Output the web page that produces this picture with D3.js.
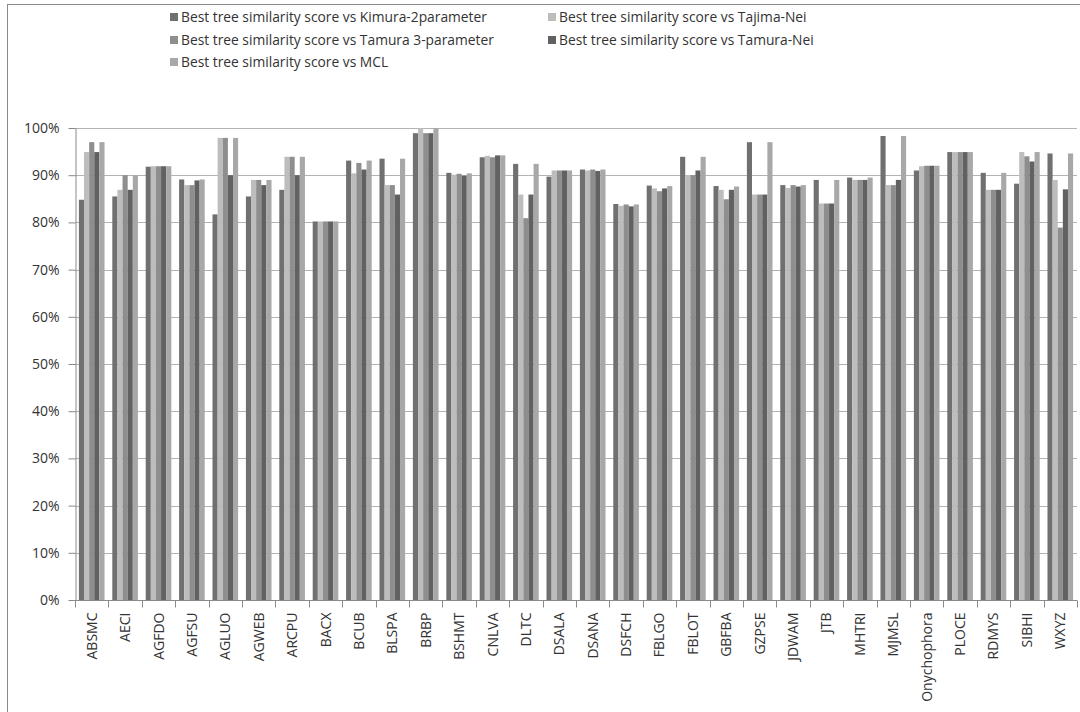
<!DOCTYPE html>
<html>
<head>
<meta charset="utf-8">
<script src="https://cdn.jsdelivr.net/npm/d3@7"></script>
<style>
  body { margin: 0; background: #fff; }
  svg { font-family: "Open Sans", "Noto Sans", sans-serif; }
</style>
</head>
<body>
<script>
// categories (x axis)
const categories = ["ABSMC", "AECI", "AGFDO", "AGFSU", "AGLUO", "AGWEB", "ARCPU", "BACX", "BCUB", "BLSPA",
  "BRBP", "BSHMT", "CNLVA", "DLTC", "DSALA", "DSANA", "DSFCH", "FBLGO", "FBLOT", "GBFBA",
  "GZPSE", "JDWAM", "JTB", "MHTRI", "MJMSL", "Onychophora", "PLOCE", "RDMYS", "SIBHI", "WXYZ"]

const seriesNames = [
  "Best tree similarity score vs Kimura-2parameter",
  "Best tree similarity score vs Tajima-Nei",
  "Best tree similarity score vs Tamura 3-parameter",
  "Best tree similarity score vs Tamura-Nei",
  "Best tree similarity score vs MCL"
]
const seriesColors = ["#707070", "#bdbdbd", "#8e8e8e", "#616161", "#a8a8a8"]

// values in %
const kimura = [84.8, 85.5, 91.8, 89.1, 81.7, 85.5, 86.9, 80.2, 93.1, 93.5,
  98.9, 90.5, 93.8, 92.4, 89.7, 91.2, 83.9, 87.8, 93.9, 87.7,
  97.0, 87.9, 89.0, 89.5, 98.3, 91.0, 94.9, 90.5, 88.2, 94.6]
const tajimaNei = [94.9, 86.9, 91.9, 87.9, 97.9, 89.0, 93.9, 80.2, 90.4, 87.9,
  100, 90.1, 94.1, 85.9, 91.0, 91.0, 83.5, 87.2, 90.0, 86.9,
  85.9, 87.3, 84.0, 89.0, 87.9, 91.9, 94.9, 86.9, 94.9, 89.0]
const tamura3 = [97.0, 90.0, 91.9, 87.9, 97.9, 89.0, 93.9, 80.2, 92.6, 87.9,
  98.9, 90.3, 93.8, 80.9, 91.0, 91.2, 83.8, 86.6, 90.0, 84.9,
  85.9, 87.9, 84.0, 89.0, 87.9, 92.0, 94.9, 86.9, 94.0, 78.9]
const tamuraNei = [94.9, 86.9, 91.9, 88.9, 90.0, 87.9, 90.0, 80.2, 91.2, 85.9,
  98.9, 89.9, 94.2, 85.9, 91.0, 90.9, 83.4, 87.2, 91.0, 86.9,
  85.9, 87.6, 84.0, 89.0, 89.0, 92.0, 94.9, 86.9, 92.9, 87.0]
const mcl = [97.0, 90.0, 91.9, 89.1, 97.9, 89.0, 93.9, 80.2, 93.1, 93.5,
  100, 90.4, 94.2, 92.4, 91.0, 91.2, 83.8, 87.7, 93.9, 87.6,
  97.0, 87.9, 89.0, 89.5, 98.3, 92.0, 94.9, 90.5, 94.9, 94.6]

const yTicks = [0, 10, 20, 30, 40, 50, 60, 70, 80, 90, 100]

const allSeries = [kimura, tajimaNei, tamura3, tamuraNei, mcl]

//----------------------------------------------------------------------------------------------

const width = 1080
const height = 712
const plot = { left: 75, right: 1077, top: 128, bottom: 600 }

const svg = d3.select("body").append("svg")
  .attr("width", width)
  .attr("height", height)

// chart frame
svg.append("rect")
  .attr("x", 7.5)
  .attr("y", 4.5)
  .attr("width", 1200)
  .attr("height", 900)
  .attr("fill", "none")
  .attr("stroke", "#8a8a8a")

const x0 = d3.scaleBand()
  .domain(categories)
  .range([plot.left, plot.right])
  .paddingInner(0.233)
  .paddingOuter(0.117)

const x1 = d3.scaleBand()
  .domain(d3.range(seriesNames.length))
  .range([0, x0.bandwidth()])

const y = d3.scaleLinear()
  .domain([0, 100])
  .range([plot.bottom, plot.top])

// gridlines
svg.append("g")
  .selectAll("line")
  .data(yTicks.slice(1))
  .join("line")
  .attr("x1", plot.left)
  .attr("x2", plot.right)
  .attr("y1", d => Math.round(y(d)) + 0.5)
  .attr("y2", d => Math.round(y(d)) + 0.5)
  .attr("stroke", "#b3b3b3")

// bars
const rows = categories.map((c, i) => ({ cat: c, vals: allSeries.map(s => s[i]) }))

svg.append("g")
  .selectAll("g")
  .data(rows)
  .join("g")
  .attr("transform", d => `translate(${x0(d.cat)},0)`)
  .selectAll("rect")
  .data(d => d.vals.map((v, k) => ({ k: k, v: v })))
  .join("rect")
  .attr("x", d => x1(d.k))
  .attr("y", d => y(d.v))
  .attr("width", x1.bandwidth())
  .attr("height", d => y(0) - y(d.v))
  .attr("fill", d => seriesColors[d.k])

// y axis
const yAxis = svg.append("g")
  .attr("transform", `translate(${plot.left + 0.5},0)`)
  .call(d3.axisLeft(y).tickValues(yTicks).tickFormat(d => d + "%").tickSize(7).tickSizeOuter(0))
yAxis.select(".domain").attr("stroke", "#8a8a8a")
yAxis.selectAll(".tick line").attr("stroke", "#8a8a8a")
yAxis.selectAll(".tick text")
  .attr("x", -16)
  .attr("font-size", 14)
  .attr("font-family", "Open Sans, sans-serif")
  .attr("fill", "#333")

// x axis with ticks between groups
const xAxisG = svg.append("g")
  .attr("transform", `translate(0,${plot.bottom + 0.5})`)
xAxisG.append("line")
  .attr("x1", plot.left)
  .attr("x2", plot.right)
  .attr("stroke", "#8a8a8a")
const step = x0.step()
xAxisG.selectAll(".sep")
  .data(d3.range(categories.length + 1))
  .join("line")
  .attr("class", "sep")
  .attr("x1", i => Math.round(plot.left + i * step) + 0.5)
  .attr("x2", i => Math.round(plot.left + i * step) + 0.5)
  .attr("y1", 0)
  .attr("y2", 7)
  .attr("stroke", "#8a8a8a")
xAxisG.selectAll(".lab")
  .data(categories)
  .join("text")
  .attr("class", "lab")
  .attr("transform", d => `translate(${x0(d) + x0.bandwidth() / 2 + 5},12) rotate(-90)`)
  .attr("text-anchor", "end")
  .attr("font-size", 14)
  .attr("fill", "#333")
  .text(d => d)

// legend
const legendPos = [
  { x: 170, y: 17 }, { x: 548, y: 17 },
  { x: 170, y: 40 }, { x: 548, y: 40 },
  { x: 170, y: 62 }
]
const legend = svg.append("g")
  .selectAll("g")
  .data(seriesNames)
  .join("g")
  .attr("transform", (d, i) => `translate(${legendPos[i].x},${legendPos[i].y})`)
legend.append("rect")
  .attr("x", 0)
  .attr("y", -4)
  .attr("width", 8)
  .attr("height", 8)
  .attr("fill", (d, i) => seriesColors[i])
legend.append("text")
  .attr("x", 11)
  .attr("dy", "0.35em")
  .attr("font-size", 13.8)
  .attr("fill", "#333")
  .text(d => d)
</script>
</body>
</html>
